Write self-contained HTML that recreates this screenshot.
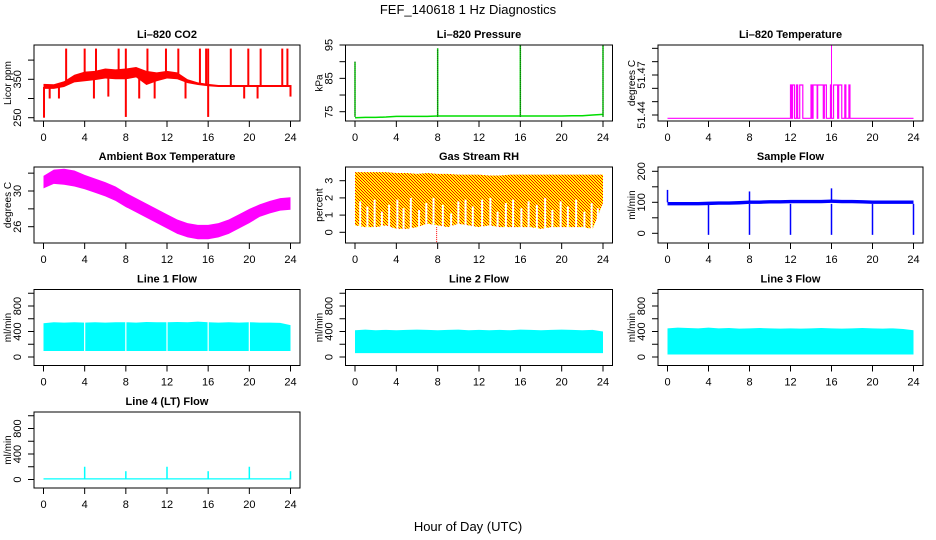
<!DOCTYPE html>
<html><head><meta charset="utf-8">
<style>
html,body{margin:0;padding:0;background:#fff;}
svg{display:block;font-family:"Liberation Sans",Arial,sans-serif;}
</style></head>
<body>
<svg id="c" width="936" height="540" viewBox="0 0 936 540">
<defs>
<pattern id="rhpat" width="3" height="3" patternUnits="userSpaceOnUse">
<rect width="3" height="3" fill="#ffff00"/><rect width="1" height="1" fill="#ff0000"/><rect x="1" y="1" width="1" height="1" fill="#ff0000"/><rect x="2" y="2" width="1" height="1" fill="#ff0000"/>
</pattern>
</defs>
<text x="468" y="14" text-anchor="middle" font-size="13">FEF_140618  1 Hz Diagnostics</text>
<text x="468" y="531" text-anchor="middle" font-size="13">Hour of Day (UTC)</text>
</svg>
<script>
// ---------- data ----------
const hours = [0,1,2,3,4,5,6,7,8,9,10,11,12,13,14,15,16,17,18,19,20,21,22,23,24];
const xTicks = [0,4,8,12,16,20,24];

const co2Upper = [338,337,345,362,370,372,378,376,378,382,372,368,372,368,350,342,338,335,335,335,335,335,335,335,335];
const co2Lower = [325,325,330,342,345,348,352,350,350,355,335,345,352,350,340,335,332,330,330,330,330,330,330,330,330];
const co2SpikeHours = [0.05,2.2,4.0,5.1,7.3,8.0,8.0,10.1,11.9,13.1,15.2,15.8,16.0,16.0,18.2,19.9,21.1,23.2,23.7,0.6,4.9,9.3,10.8,13.8,19.5,20.8,24.0,1.5,6.3];
const co2SpikeValues = [250,430,430,430,430,430,252,430,430,430,430,430,430,252,430,430,430,430,430,300,300,300,300,300,300,300,305,300,305];

const presBase = [73.2,73.3,73.3,73.4,73.6,73.6,73.6,73.6,73.7,73.7,73.7,73.7,73.7,73.7,73.7,73.7,73.7,73.7,73.7,73.7,73.7,73.8,73.8,74.0,74.2];
const presSpikeHours = [0,8,16,24];
const presSpikeValues = [90,94,95,95];

const tempHiStart = [12.0,12.2,12.6,12.9,14.0,14.2,14.65,15.3,15.9,16.2,16.7,17.3,17.7];
const tempHiEnd   = [12.1,12.4,12.7,13.2,14.1,14.6,15.2,15.5,16.0,16.6,17.0,17.4,17.8];
const tempBase = 51.4375, tempHigh = 51.4625, tempSpikeHour = 16.0, tempSpikeValue = 51.4925;

const ambCenter = [31.0,31.6,31.6,31.4,31.0,30.6,30.2,29.7,29.0,28.4,27.8,27.2,26.6,26.0,25.6,25.4,25.4,25.6,26.0,26.6,27.2,27.8,28.2,28.5,28.6];
const ambHalf = [0.7,0.8,0.9,0.9,0.8,0.8,0.8,0.8,0.8,0.8,0.8,0.8,0.8,0.8,0.8,0.8,0.8,0.8,0.8,0.8,0.8,0.7,0.7,0.7,0.7];

const rhUpper = [3.5,3.5,3.5,3.5,3.45,3.45,3.4,3.45,3.4,3.4,3.35,3.35,3.35,3.3,3.3,3.35,3.35,3.35,3.35,3.35,3.35,3.35,3.35,3.35,3.35];
const rhLower = [0.4,0.3,0.3,0.4,0.2,0.2,0.3,0.5,0.4,0.3,0.5,0.4,0.3,0.4,0.3,0.3,0.3,0.3,0.2,0.3,0.3,0.3,0.3,0.2,1.7];
const rhGapHours = [0.5,1.2,1.9,2.6,3.3,4.1,4.7,5.4,6.2,6.9,7.6,8.5,9.3,10.0,10.7,11.4,12.3,13.1,13.8,14.6,15.3,16.1,16.8,17.6,18.4,19.1,19.9,20.6,21.4,22.2,22.9,23.5];
const rhGapTops = [1.8,1.5,1.9,1.2,1.6,1.9,1.4,2.0,1.3,1.7,2.0,1.6,1.1,1.8,1.9,1.5,1.9,2.0,1.2,1.7,1.9,1.4,1.8,1.6,2.0,1.3,1.8,1.5,1.9,1.2,1.7,1.4];
const rhOutHour = 7.9, rhOutValue = -0.6;

const sfLevel = [95,95,95,95,96,97,97,98,100,100,101,101,102,102,102,102,103,102,102,101,100,100,100,100,100];
const sfDipHours = [4,8,12,16,20,24];
const sfDipValues = [-5,-5,-5,-5,-5,-5];
const sfSpikeHours = [0,8,16];
const sfSpikeValues = [140,135,145];

const l1Upper = [530,545,540,545,540,545,540,545,545,540,550,545,545,550,545,555,545,540,545,540,545,540,540,535,500];
const l1Lower = [95,95,95,95,95,95,95,95,95,95,95,95,95,95,95,95,95,95,95,95,95,95,95,95,95];
const l2Upper = [420,430,420,425,420,425,430,425,420,425,430,420,425,420,425,420,430,425,420,425,430,425,420,425,400];
const l2Lower = [60,60,60,60,60,60,60,60,60,60,60,60,60,60,60,60,60,60,60,60,60,60,60,60,60];
const l3Upper = [450,460,455,450,460,450,455,445,450,455,450,445,450,445,450,455,450,445,450,455,450,445,450,440,420];
const l3Lower = [40,40,40,40,40,40,40,40,40,40,40,40,40,40,40,40,40,40,40,40,40,40,40,40,40];
const flowGapHours = [4,8,12,16,20];
const l4Base = 20;
const l4SpikeHours = [4,8,12,16,20,24];
const l4SpikeValues = [200,130,200,130,200,130];

// ---------- layout ----------
const NS="http://www.w3.org/2000/svg";
const svg=document.getElementById('c');
const colLeft=[34,345.5,658], colW=[266,267,265];
const rowTop=[45,167,289.5,412], boxH=76;
function el(tag,attrs,parent){const e=document.createElementNS(NS,tag);for(const k in attrs)e.setAttribute(k,attrs[k]);(parent||svg).appendChild(e);return e;}

function makePanel(name,col,row,title,ylab,yTicks,yLabels,v1,p1,v2,p2){
  const g=el('g',{});
  
  
  const L=colLeft[col],W=colW[col],T=rowTop[row],B=T+boxH;
  const X=h=>L+9.5+h*(W-19)/24;
  const Y=v=>(T+p1)+(v-v1)*((p2-p1)/(v2-v1));
  const plot=el('g',{},g);
  
  
  const box=el('rect',{x:L,y:T,width:W,height:boxH,fill:'none',stroke:'#000','stroke-width':1},g);
  
  
  const t=el('text',{x:L+W/2,y:T-7,'text-anchor':'middle','font-size':11,'font-weight':'bold'},g);
  t.textContent=title;
  
  
  const yl=el('text',{x:L-23,y:T+boxH/2,'text-anchor':'middle','font-size':10,transform:`rotate(-90 ${L-23} ${T+boxH/2})`},g);
  yl.textContent=ylab;
  
  
  yTicks.forEach((v,i)=>{
    const y=Y(v);
    const tk=el('line',{x1:L-6,x2:L,y1:y,y2:y,stroke:'#000'},g);
    
    
    if(yLabels[i]!==''){
      const tx=el('text',{x:L-13,y:y,'text-anchor':'middle','font-size':11,transform:`rotate(-90 ${L-13} ${y})`},g);
      tx.textContent=yLabels[i];
      
      
    }
  });
  xTicks.forEach(h=>{
    const x=X(h);
    const tk=el('line',{x1:x,x2:x,y1:B,y2:B+6,stroke:'#000'},g);
    
    
    const tx=el('text',{x:x,y:B+20,'text-anchor':'middle','font-size':11},g);
    tx.textContent=String(h);
    
    
  });
  return {g:plot,X,Y,T,B,L,W};
}
function band(p,xs,up,lo,fill,name){
  let d='M'+xs.map((h,i)=>p.X(h)+','+p.Y(up[i])).join('L');
  d+='L'+xs.map((h,i)=>[h,i]).reverse().map(([h,i])=>p.X(h)+','+p.Y(lo[i])).join('L')+'Z';
  const e=el('path',{d:d,fill:fill,stroke:'none'},p.g);
  
  
  return e;
}
function vline(p,h,v1,v2,color,w,name,extra){
  const e=el('line',Object.assign({x1:p.X(h),x2:p.X(h),y1:p.Y(v1),y2:p.Y(v2),stroke:color,'stroke-width':w||1},extra||{}),p.g);
  
  
  return e;
}
function interp(arr,h){const i=Math.min(23,Math.floor(h));const f=h-i;return arr[i]*(1-f)+arr[i+1]*f;}

// CO2
let p=makePanel('co2',0,0,'Li–820 CO2','Licor ppm',[250,300,350,400],['250','','350',''],350,34.3,250,72.7);
band(p,hours,co2Upper,co2Lower,'#ff0000','co2-band');
co2SpikeHours.forEach((h,i)=>vline(p,h,interp(co2Lower,h)+5,co2SpikeValues[i],'#ff0000',2,'co2-spike'));

// Pressure
p=makePanel('pressure',1,0,'Li–820 Pressure','kPa',[75,80,85,90,95],['75','','85','','95'],95,0,75,66.7);
{const d='M'+hours.map((h,i)=>p.X(h)+','+p.Y(presBase[i])).join('L');
 const e=el('path',{d:d,fill:'none',stroke:'#00dd00','stroke-width':1.5},p.g);
 
 }
presSpikeHours.forEach((h,i)=>{vline(p,h,73.5,presSpikeValues[i],'#00ee00',1.5,'pressure-spike');
  vline(p,h,73.5,presSpikeValues[i],'#222',1,'pressure-spike-dots',{'stroke-dasharray':'1,1'});});

// Li-820 Temperature
p=makePanel('temperature',2,0,'Li–820 Temperature','degrees C',[51.44,51.45,51.46,51.47,51.48,51.49],['51.44','','','51.47','',''],51.47,30,51.44,70);
{let d='M'+p.X(0)+','+p.Y(tempBase);
 tempHiStart.forEach((s,i)=>{d+='L'+p.X(s)+','+p.Y(tempBase)+'L'+p.X(s)+','+p.Y(tempHigh)+'L'+p.X(tempHiEnd[i])+','+p.Y(tempHigh)+'L'+p.X(tempHiEnd[i])+','+p.Y(tempBase);});
 d+='L'+p.X(24)+','+p.Y(tempBase);
 const e=el('path',{d:d,fill:'none',stroke:'#ff00ff','stroke-width':1.2},p.g);
 
 
 vline(p,tempSpikeHour,tempBase,tempSpikeValue,'#ff00ff',1,'temperature-spike');}

// Ambient
p=makePanel('ambient',0,1,'Ambient Box Temperature','degrees C',[26,28,30,32],['26','','30',''],30,24,26,59.7);
band(p,hours,ambCenter.map((c,i)=>c+ambHalf[i]),ambCenter.map((c,i)=>c-ambHalf[i]),'#ff00ff','ambient-band');

// RH
p=makePanel('rh',1,1,'Gas Stream RH','percent',[0,1,2,3],['0','1','2','3'],3,13.7,0,65.3);
band(p,hours,rhUpper,rhLower,'url(#rhpat)','rh-band');
rhGapHours.forEach((h,i)=>vline(p,h,0.1,rhGapTops[i],'#fff',2,'rh-gap'));
vline(p,rhOutHour,0.3,rhOutValue,'#ff0000',1,'rh-outlier',{'stroke-dasharray':'1,1'});

// Sample Flow
p=makePanel('sample-flow',2,1,'Sample Flow','ml/min',[0,50,100,150,200],['0','','100','','200'],100,35.3,0,66.3);
band(p,hours,sfLevel.map(v=>v+6),sfLevel.map(v=>v-5),'#0000ff','sample-flow-band');
sfDipHours.forEach((h,i)=>vline(p,h,95,sfDipValues[i],'#0000ff',1.5,'sample-flow-dip'));
sfSpikeHours.forEach((h,i)=>vline(p,h,100,sfSpikeValues[i],'#0000ff',1.5,'sample-flow-spike'));

// Line flows
const flowTicks=[0,200,400,600,800,1000], flowLabels=['0','','400','','800',''];
[['line1','Line 1 Flow',0,l1Upper,l1Lower,true],['line2','Line 2 Flow',1,l2Upper,l2Lower,false],['line3','Line 3 Flow',2,l3Upper,l3Lower,false]].forEach(([n,t,c,up,lo,gaps])=>{
  const q=makePanel(n+'-flow',c,2,t,'ml/min',flowTicks,flowLabels,0,67.5,800,16.5);
  band(q,hours,up,lo,'#00ffff',n+'-flow-band');
  if(gaps) flowGapHours.forEach(h=>vline(q,h,lo[h]-5,up[h]+5,'#fff',1.2,n+'-flow-gap'));
});
p=makePanel('line4-flow',0,3,'Line 4 (LT) Flow','ml/min',flowTicks,flowLabels,0,67.5,800,16.5);
band(p,[0,24],[l4Base,l4Base],[0,0],'#00ffff','line4-flow-band');
l4SpikeHours.forEach((h,i)=>vline(p,h,0,l4SpikeValues[i],'#00ffff',1.5,'line4-flow-spike'));
</script>
</body></html>
